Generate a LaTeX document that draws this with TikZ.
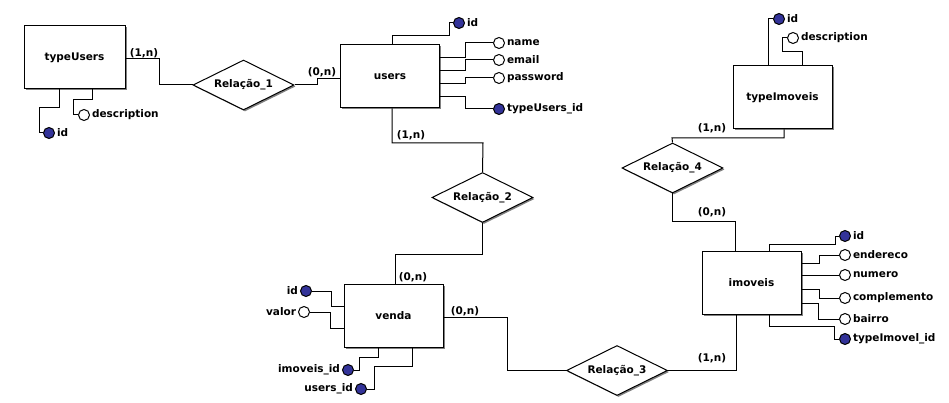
\documentclass[tikz,border=0pt]{standalone}
\usepackage{fontspec}
\setmainfont{DejaVu Sans}
\usetikzlibrary{shapes.geometric}
\usetikzlibrary{shadows}
\definecolor{keyblue}{RGB}{51,51,153}

\begin{document}
\begin{tikzpicture}[x=1pt, y=-1pt, line width=1pt,
    every node/.style={font=\fontsize{10.5pt}{12pt}\selectfont\bfseries},
    every label/.style={inner sep=1.5pt},
    boxshadow/.style={drop shadow={shadow xshift=1.5pt, shadow yshift=-1.5pt, fill=gray, opacity=1}},
    entity/.style={draw, fill=white, minimum width=99pt, minimum height=63pt, inner sep=0pt, boxshadow},
    relation/.style={draw, fill=white, diamond, aspect=2, minimum width=101pt, minimum height=50pt, inner sep=0pt, boxshadow},
    attr/.style={draw, circle, fill=white, minimum size=11pt, inner sep=0pt},
    keyattr/.style={attr, fill=keyblue}]
    \path[fill=white, use as bounding box] (0,0) rectangle (949,403);

    \node[entity, minimum width=101pt] (typeUsers) at (74.5,57.5) {typeUsers};
    \node[entity] (users) at (390,76.5) {users};
    \node[entity] (venda) at (393.5,315.5) {venda};
    \node[entity] (imoveis) at (751.5,283) {imoveis};
    \node[entity] (typeImoveis) at (782.5,97.5) {typeImoveis};

    \node[relation] (r1) at (243.5,85) {Relação\_1};
    \node[relation] (r2) at (482.5,197.5) {Relação\_2};
    \node[relation] (r3) at (617,370.5) {Relação\_3};
    \node[relation] (r4) at (672.5,168) {Relação\_4};

    \node[keyattr, label=right:id] (tu-id) at (49,133) {};
    \node[attr, label=right:description] (tu-desc) at (84,115) {};
    \node[keyattr, label=right:id] (u-id) at (459,23) {};
    \node[attr, label=right:name] (u-name) at (499,43) {};
    \node[attr, label=right:email] (u-email) at (499,60) {};
    \node[attr, label=right:password] (u-pass) at (499,78) {};
    \node[keyattr, label=right:typeUsers\_id] (u-tuid) at (499,109) {};
    \node[keyattr, label=left:id] (v-id) at (306,291) {};
    \node[attr, label=left:valor] (v-val) at (304,312) {};
    \node[keyattr, label=left:imoveis\_id] (v-imid) at (348,370) {};
    \node[keyattr, label=left:users\_id] (v-uid) at (361,389) {};
    \node[keyattr, label=right:id] (i-id) at (845,236) {};
    \node[attr, label=right:endereco] (i-end) at (845,255) {};
    \node[attr, label=right:numero] (i-num) at (845,275) {};
    \node[attr, label=right:complemento] (i-comp) at (845,298) {};
    \node[attr, label=right:bairro] (i-bai) at (845,319) {};
    \node[keyattr, label=right:typeImovel\_id] (i-tiid) at (845,339) {};
    \node[keyattr, label=right:id] (ti-id) at (779,19) {};
    \node[attr, label=right:description] (ti-desc) at (793,38) {};

    \node (c1) at (144,53) {(1,n)};
    \node (c2) at (322,72) {(0,n)};
    \node (c3) at (411,135) {(1,n)};
    \node (c4) at (413,277) {(0,n)};
    \node (c5) at (465,311) {(0,n)};
    \node (c6) at (712,358) {(1,n)};
    \node (c7) at (712,212) {(0,n)};
    \node (c8) at (712,128) {(1,n)};

    \draw (typeUsers.east |- 0,59) -- (159,59) |- (r1.west);
    \draw (r1.east) -- (317,85) |- (users.west |- 0,79);
    \draw (users.south -| 392,0) |- (483,143) -- (r2.north);
    \draw (r2.south) |- (395,254) -- (venda.north -| 395,0);
    \draw (venda.east |- 0,317) -- (507,317) |- (r3.west);
    \draw (r3.east) -| (imoveis.south -| 736,0);
    \draw (r4.south) |- (735,222) -- (imoveis.north -| 735,0);
    \draw (r4.north) -- (672,138) -| (typeImoveis.south -| 784,0);

    \draw (typeUsers.south -| 59,0) |- (39,108) |- (tu-id);
    \draw (typeUsers.south -| 92,0) |- (73,100) |- (tu-desc);

    \draw (users.north -| 392,0) |- (449,36) |- (u-id);
    \draw (users.east |- 0,58) -- (465,58) |- (u-name);
    \draw (users.east |- 0,71) -- (465,71) |- (u-email);
    \draw (users.east |- 0,84) -- (465,84) |- (u-pass);
    \draw (users.east |- 0,97) -- (465,97) |- (u-tuid);

    \draw (v-id) -| (331,306) -- (venda.west |- 0,306);
    \draw (v-val) -| (330,328) -- (venda.west |- 0,328);
    \draw (venda.south -| 378,0) |- (359,357) |- (v-imid);
    \draw (venda.south -| 412,0) |- (374,366) |- (v-uid);

    \draw (imoveis.north -| 769,0) |- (835,244) |- (i-id);
    \draw (imoveis.east |- 0,263) -- (819,263) |- (i-end);
    \draw (imoveis.east |- 0,275) -- (i-num);
    \draw (imoveis.east |- 0,289) -- (819,289) |- (i-comp);
    \draw (imoveis.east |- 0,303) -- (818,303) |- (i-bai);
    \draw (imoveis.south -| 769,0) |- (834,326) |- (i-tiid);

    \draw (typeImoveis.north -| 768,0) |- (ti-id);
    \draw (typeImoveis.north -| 802,0) |- (782,52) |- (ti-desc);
\end{tikzpicture}
\end{document}
